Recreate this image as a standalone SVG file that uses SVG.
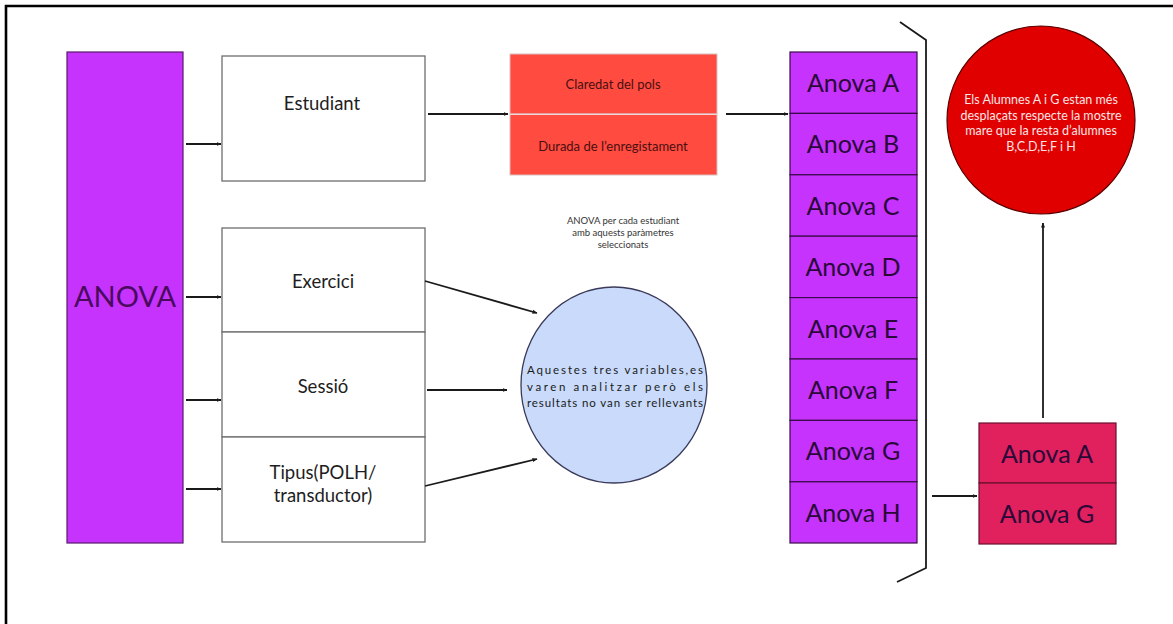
<svg xmlns="http://www.w3.org/2000/svg" width="1173" height="624" viewBox="0 0 1173 624">
  <style>
    text { font-family: Lato, "Open Sans", "Liberation Sans", sans-serif; text-anchor: middle; }
    .box { fill: #ffffff; stroke: #6e6e6e; stroke-width: 1.3; }
    .purple { fill: #c533fd; stroke: #5a1a6e; stroke-width: 1.2; }
    .cell { fill: #c533fd; stroke: #3a0a4a; stroke-width: 1.2; }
    .red { fill: #ff4b40; stroke: #d9c0c0; stroke-width: 1; }
    .pink { fill: #e0215e; stroke: #6a1030; stroke-width: 1.2; }
    .lbl { font-size: 18.5px; fill: #1e1e1e; }
    .small { font-size: 13px; fill: #4a1010; }
    .cellText { font-size: 25px; fill: #2a0838; }
    .note { font-size: 9.5px; fill: #333333; }
    .conn { stroke: #1a1a1a; stroke-width: 1.8; fill: none; }
  </style>
  <defs>
    <marker id="arrow" viewBox="0 0 10 10" refX="9" refY="5" markerWidth="5" markerHeight="5" orient="auto" markerUnits="userSpaceOnUse">
      <path d="M0,1 L10,5 L0,9 z" fill="#1a1a1a"/>
    </marker>
  </defs>

  <rect width="1173" height="624" fill="#ffffff"/>
  <!-- page frame (top and left edges) -->
  <path d="M6,624 V6 H1173" stroke="#000000" stroke-width="2.6" fill="none"/>

  <g id="anova">
    <rect class="purple" x="67" y="52" width="116" height="491"/>
    <text x="125" y="307" style="font-size:29px; fill:#4a0a5e;">ANOVA</text>
  </g>

  <g id="estudiant">
    <rect class="box" x="222" y="56" width="203" height="125"/>
    <text class="lbl" x="322" y="110">Estudiant</text>
  </g>

  <g id="exercici">
    <rect class="box" x="222" y="228" width="203" height="104"/>
    <text class="lbl" x="323" y="288">Exercici</text>
  </g>

  <g id="sessio">
    <rect class="box" x="222" y="332" width="203" height="105"/>
    <text class="lbl" x="323" y="393">Sessió</text>
  </g>

  <g id="tipus">
    <rect class="box" x="222" y="437" width="203" height="105"/>
    <text class="lbl" x="323" y="479">Tipus(POLH/</text>
    <text class="lbl" x="323" y="502">transductor)</text>
  </g>

  <g id="parametres">
    <rect class="red" x="510" y="54" width="207" height="60"/>
    <rect class="red" x="510" y="114" width="207" height="61"/>
    <line x1="510" y1="114.5" x2="717" y2="114.5" stroke="#f4d8d8" stroke-width="1.2"/>
    <text class="small" x="613" y="89">Claredat del pols</text>
    <text class="small" x="613" y="151">Durada de l’enregistament</text>
  </g>

  <g id="nota">
    <text class="note" x="623" y="224">ANOVA per cada estudiant</text>
    <text class="note" x="623" y="236">amb aquests paràmetres</text>
    <text class="note" x="623" y="248">seleccionats</text>
  </g>

  <g id="variables">
    <ellipse cx="614" cy="385" rx="93" ry="98" fill="#c9dafa" stroke="#3a3a5a" stroke-width="1.3"/>
    <text x="615" y="374" style="font-size:11.5px; fill:#1a1a1a;" textLength="176" lengthAdjust="spacing">Aquestes tres variables,es</text>
    <text x="615" y="391" style="font-size:11.5px; fill:#1a1a1a;" textLength="176" lengthAdjust="spacing">varen analitzar però els</text>
    <text x="615" y="407" style="font-size:11.5px; fill:#1a1a1a;" textLength="176" lengthAdjust="spacing">resultats no van ser rellevants</text>
  </g>

  <g id="anova-estudiants">
    <rect class="cell" x="790" y="52" width="127" height="61.4"/>
    <rect class="cell" x="790" y="113.4" width="127" height="61.4"/>
    <rect class="cell" x="790" y="174.8" width="127" height="61.4"/>
    <rect class="cell" x="790" y="236.2" width="127" height="61.4"/>
    <rect class="cell" x="790" y="297.6" width="127" height="61.4"/>
    <rect class="cell" x="790" y="359" width="127" height="61.4"/>
    <rect class="cell" x="790" y="420.4" width="127" height="61.4"/>
    <rect class="cell" x="790" y="481.8" width="127" height="61.2"/>
    <text class="cellText" x="853" y="92">Anova A</text>
    <text class="cellText" x="853" y="153">Anova B</text>
    <text class="cellText" x="853" y="215">Anova C</text>
    <text class="cellText" x="853" y="276">Anova D</text>
    <text class="cellText" x="853" y="338">Anova E</text>
    <text class="cellText" x="853" y="399">Anova F</text>
    <text class="cellText" x="853" y="460">Anova G</text>
    <text class="cellText" x="853" y="522">Anova H</text>
  </g>

  <g id="seleccio">
    <rect class="pink" x="979" y="423" width="137" height="60"/>
    <rect class="pink" x="979" y="483" width="137" height="61"/>
    <text class="cellText" x="1047" y="463">Anova A</text>
    <text class="cellText" x="1047" y="523">Anova G</text>
  </g>

  <g id="conclusio">
    <circle cx="1041" cy="120" r="94" fill="#e00000" stroke="#5a0000" stroke-width="1.2"/>
    <text x="1041" y="104" style="font-size:12.5px; fill:#fbe4e4;">Els Alumnes A i G estan més</text>
    <text x="1041" y="120" style="font-size:12.5px; fill:#fbe4e4;">desplaçats respecte la mostre</text>
    <text x="1041" y="135" style="font-size:12.5px; fill:#fbe4e4;">mare que la resta d’alumnes</text>
    <text x="1041" y="151" style="font-size:12.5px; fill:#fbe4e4;">B,C,D,E,F i H</text>
  </g>

  <g id="connectors">
    <line class="conn" x1="186" y1="144" x2="221" y2="144" marker-end="url(#arrow)"/>
    <line class="conn" x1="186" y1="297" x2="221" y2="297" marker-end="url(#arrow)"/>
    <line class="conn" x1="186" y1="400" x2="221" y2="400" marker-end="url(#arrow)"/>
    <line class="conn" x1="186" y1="489" x2="221" y2="489" marker-end="url(#arrow)"/>
    <line class="conn" x1="428" y1="114" x2="508" y2="114" marker-end="url(#arrow)"/>
    <line class="conn" x1="726" y1="114" x2="788" y2="114" marker-end="url(#arrow)"/>
    <line class="conn" x1="425" y1="281" x2="537" y2="313" marker-end="url(#arrow)"/>
    <line class="conn" x1="427" y1="390" x2="507" y2="390" marker-end="url(#arrow)"/>
    <line class="conn" x1="425" y1="486" x2="537" y2="459" marker-end="url(#arrow)"/>
    <!-- bracket grouping the per-student ANOVAs -->
    <path class="conn" d="M900,22 L926,40 V568 L897,582"/>
    <line class="conn" x1="932" y1="496" x2="977" y2="496" marker-end="url(#arrow)"/>
    <line class="conn" x1="1043" y1="418" x2="1043" y2="223" marker-end="url(#arrow)"/>
  </g>
</svg>
